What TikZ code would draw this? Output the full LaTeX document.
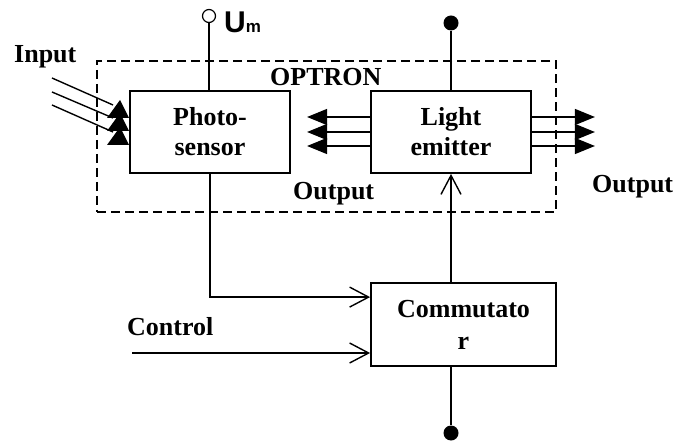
\documentclass[tikz,border=0pt]{standalone}
\usepackage{fontspec}
\setmainfont{Liberation Serif}
\setsansfont{Liberation Sans}
\usetikzlibrary{arrows.meta,calc}
\begin{document}
\begin{tikzpicture}[x=1pt,y=-1pt,
  txt/.style={font=\fontsize{26}{30}\selectfont\bfseries, inner sep=0pt},
  box/.style={draw, line width=1.8pt, align=center, inner sep=0pt,
    font=\fontsize{26}{30}\selectfont\bfseries},
  wire/.style={line width=1.4pt},
  fat/.style={wire, -{Triangle[length=20pt,width=16pt]}},
  barb/.style={wire, -{Straight Barb[length=19pt,width=20pt]}},
  dot/.style={circle, fill, inner sep=0pt, minimum size=15pt},
  odot/.style={circle, draw, line width=1.2pt, inner sep=0pt, minimum size=13pt}]
\useasboundingbox (0,0) rectangle (676,443);

% OPTRON dashed frame
\node[draw, dashed, line width=1.4pt, dash pattern=on 9pt off 5pt,
  minimum width=459pt, minimum height=151pt, inner sep=0pt] (opt) at (326.5,136.5) {};

% blocks
\node[box, minimum width=160pt, minimum height=82pt] (ps) at (210,132) {Photo-\\sensor};
\node[box, minimum width=160pt, minimum height=82pt] (le) at (451,132) {Light\\emitter};
\node[box, minimum width=185pt, minimum height=83pt, font=\fontsize{26}{32}\selectfont\bfseries] (cm) at (463.5,324.5) {Commutato\\r};

% terminals
\node[odot] (um) at (209,16) {};
\node[dot] (dt) at (451,23) {};
\node[dot] (db) at (451,433) {};

% labels
\node[txt, anchor=base west] (linput) at (14,63) {Input};
\node[txt, anchor=base west] (loptron) at (270,86) {OPTRON};
\node[txt, anchor=base west] (lout1) at (293,200) {Output};
\node[txt, anchor=base west] (lout2) at (592,193) {Output};
\node[txt, anchor=base west] (lctl) at (127,335) {Control};
\node[inner sep=0pt, anchor=base west] (lum) at (224,33)
  {\sffamily\bfseries\fontsize{30}{30}\selectfont U\fontsize{17}{17}\selectfont m};

% supply lines
\draw[line width=1.2pt] (um) -- (um |- ps.north);
\draw[wire] (dt) -- (le);
\draw[wire] (le.south |- cm.south) -- (db);
\draw[barb] (le.south |- cm.north) -- (le.south);

% photosensor to commutator
\coordinate (c1) at ($(cm.north west)+(0,15)$);
\draw[barb] (ps.south) |- (c1);

% control
\coordinate (ctl) at (132,353);
\draw[barb] (ctl) -- (cm.west |- ctl);

% input rays with stacked triangular heads
\foreach \k/\ys/\ye in {1/78/105, 2/92/118, 3/105/132}{
  \coordinate (i\k) at (52,\ys);
  \coordinate (j\k) at (113,\ye);
  \draw[wire] (i\k) -- (j\k);
  \fill (j\k) ++(7,-5) -- ++(9,18) -- ++(-22,0) -- cycle;
}

% emitter outputs
\foreach \k/\dy in {a/-15,b/0,c/14}{
  \coordinate (l\k) at ($(le.west)+(0,\dy)$);
  \coordinate (r\k) at ($(le.east)+(0,\dy)$);
  \draw[fat] (l\k) -- ++(-63,0);
  \draw[fat] (r\k) -- ++(63,0);
}
\end{tikzpicture}
\end{document}
